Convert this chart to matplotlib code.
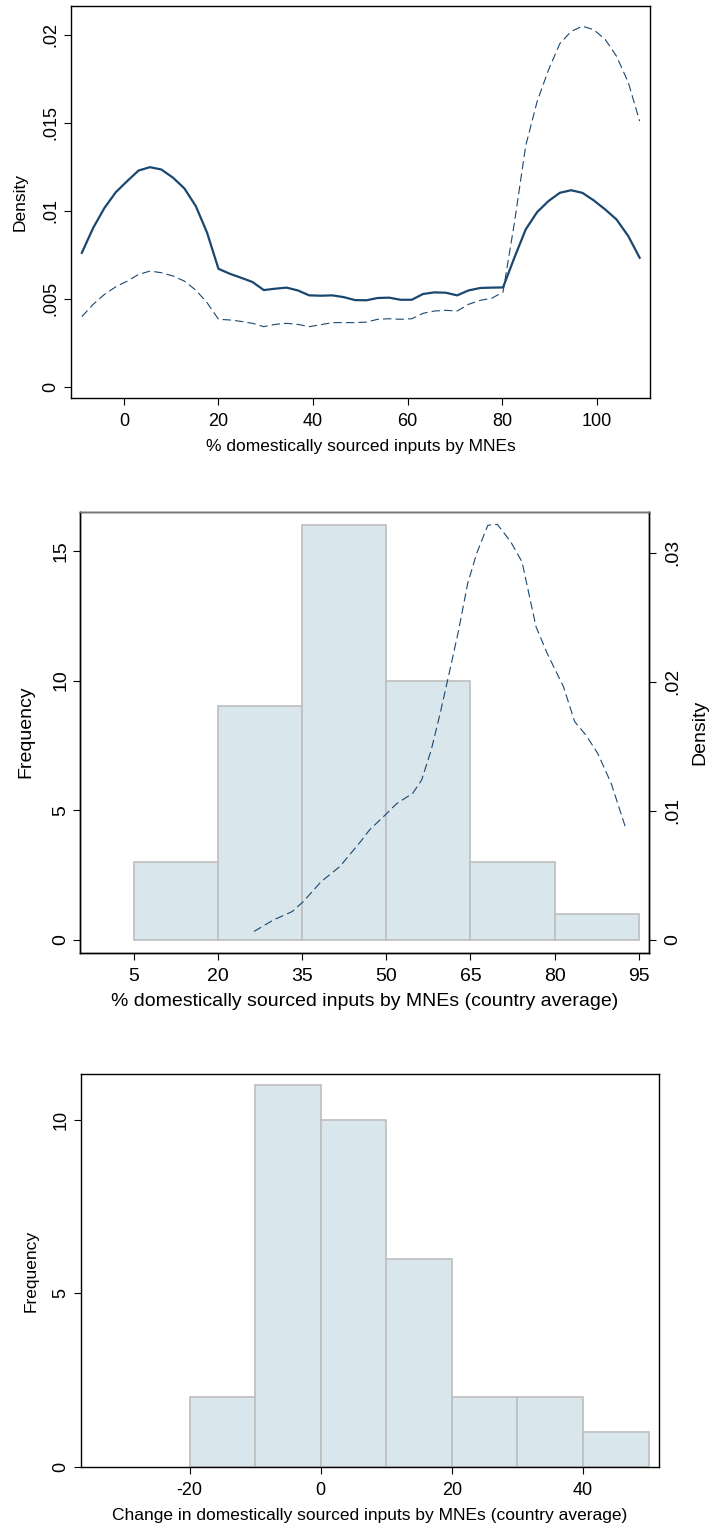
import numpy as np
import matplotlib
matplotlib.use('Agg')
from matplotlib import pyplot as plt

plt.rcParams['font.family'] = ['Liberation Sans', 'DejaVu Sans']
plt.rcParams['lines.scale_dashes'] = False
plt.rcParams['axes.unicode_minus'] = False

navy = '#1a476f'
bar_fill = '#d9e6ec'
bar_edge = '#bebebe'

# panel 1: kernel densities (50 grid points)
kd_x = [-8.9, -6.5, -4.1, -1.7, 0.7, 3.1, 5.5, 7.9, 10.4, 12.8,
        15.2, 17.6, 20.0, 22.4, 24.8, 27.2, 29.6, 32.0, 34.4, 36.8,
        39.2, 41.6, 44.1, 46.5, 48.9, 51.3, 53.7, 56.1, 58.5, 60.9,
        63.3, 65.7, 68.1, 70.5, 72.9, 75.4, 77.8, 80.2, 82.6, 85.0,
        87.4, 89.8, 92.2, 94.6, 97.0, 99.4, 101.8, 104.2, 106.7, 109.1]
kd_solid = [0.00761, 0.00903, 0.01017, 0.01106, 0.01169, 0.01229, 0.01248, 0.01235, 0.01188, 0.01127,
            0.01027, 0.00875, 0.00670, 0.00642, 0.00619, 0.00595, 0.00549, 0.00557, 0.00563, 0.00547,
            0.00519, 0.00517, 0.00519, 0.00509, 0.00492, 0.00491, 0.00504, 0.00506, 0.00494, 0.00494,
            0.00527, 0.00536, 0.00534, 0.00519, 0.00547, 0.00561, 0.00563, 0.00564, 0.00733, 0.00894,
            0.00992, 0.01055, 0.01102, 0.01117, 0.01102, 0.01059, 0.01008, 0.00951, 0.00856, 0.00733]
kd_dash = [0.00398, 0.00468, 0.00525, 0.00568, 0.00600, 0.00638, 0.00657, 0.00648, 0.00629, 0.00600,
           0.00549, 0.00477, 0.00383, 0.00379, 0.00371, 0.00360, 0.00341, 0.00354, 0.00360, 0.00354,
           0.00341, 0.00352, 0.00364, 0.00364, 0.00364, 0.00367, 0.00383, 0.00386, 0.00383, 0.00386,
           0.00417, 0.00430, 0.00434, 0.00430, 0.00468, 0.00491, 0.00502, 0.00538, 0.00930, 0.01370,
           0.01620, 0.01800, 0.01950, 0.02020, 0.02050, 0.02030, 0.01975, 0.01880, 0.01730, 0.01510]

# panel 2: country averages histogram + density
h2_edges = [5, 20, 35, 50, 65, 80, 95]
h2_counts = [3, 9, 16, 10, 3, 1]
d2_x = [26.4, 29.9, 33.2, 35.2, 38.4, 41.7, 45.4, 47.0, 49.8, 51.9,
        54.7, 56.3, 58.0, 59.6, 61.2, 62.9, 64.5, 66.1, 68.1, 69.8,
        72.2, 74.2, 76.7, 78.7, 81.6, 83.6, 85.6, 87.7, 90.1, 92.7]
d2_y = [0.00065, 0.00155, 0.00219, 0.00297, 0.00452, 0.00568, 0.00761, 0.00852, 0.00968, 0.01058,
        0.01135, 0.01239, 0.01471, 0.01755, 0.02065, 0.02400, 0.02761, 0.02994, 0.03213, 0.03220,
        0.03084, 0.02929, 0.02426, 0.02219, 0.01961, 0.01690, 0.01587, 0.01445, 0.01213, 0.00865]

# panel 3: change histogram
h3_edges = [-20, -10, 0, 10, 20, 30, 40, 50]
h3_counts = [2, 11, 10, 6, 2, 2, 1]

fig = plt.figure(figsize=(7.14, 15.28), dpi=100)

def style_axes(ax, ypad=3.5, size=13):
    for s in ax.spines.values():
        s.set_linewidth(1.0)
        s.set_color('black')
    ax.tick_params(direction='out', length=4.8, width=0.8, labelsize=size)
    ax.tick_params(axis='x', pad=6.0)
    ax.tick_params(axis='y', labelrotation=90, pad=ypad)
    for lab in ax.get_yticklabels():
        lab.set_va('center')

# ---- top panel
ax1 = fig.add_axes([0.0994, 0.7395, 0.9104 - 0.0994, 0.9961 - 0.7395])
ax1.plot(kd_x, kd_solid, color=navy, lw=1.6)
ax1.plot(kd_x, kd_dash, color=navy, lw=0.8, dashes=(6, 3))
ax1.set_xlim(-11.2, 111.3)
ax1.set_ylim(-0.00065, 0.02165)
ax1.set_xticks([0, 20, 40, 60, 80, 100])
ax1.set_yticks([0, 0.005, 0.01, 0.015, 0.02])
ax1.set_yticklabels(['0', '.005', '.01', '.015', '.02'])
ax1.set_xlabel('% domestically sourced inputs by MNEs', fontsize=12.5, labelpad=6.5)
ax1.set_ylabel('Density', fontsize=12.5, labelpad=10.4)
style_axes(ax1)

# ---- middle panel (text drawn a bit larger, as in the original)
ax2 = fig.add_axes([0.1115, 0.3766, 0.9094 - 0.1115, 0.6651 - 0.3766])
ax2.hist(h2_edges[:-1], bins=h2_edges, weights=h2_counts,
         color=bar_fill, edgecolor=bar_edge, linewidth=1.2)
ax2.set_xlim(-4.7, 96.9)
ax2.set_ylim(-0.49, 16.51)
ax2.set_xticks(h2_edges)
ax2.set_yticks([0, 5, 10, 15])
ax2.set_xlabel('% domestically sourced inputs by MNEs (country average)', fontsize=14, labelpad=6)
ax2.set_ylabel('Frequency', fontsize=14, labelpad=13)
style_axes(ax2, ypad=2.5, size=14)
ax2b = ax2.twinx()
ax2b.plot(d2_x, d2_y, color=navy, lw=0.8, dashes=(6, 3))
ax2b.set_ylim(-0.000984, 0.03318)
ax2b.set_yticks([0, 0.01, 0.02, 0.03])
ax2b.set_yticklabels(['0', '.01', '.02', '.03'])
ax2b.set_ylabel('Density', fontsize=14, labelpad=7)
style_axes(ax2b, ypad=6, size=14)
ax2b.spines['top'].set_color('#777777')

# ---- bottom panel
ax3 = fig.add_axes([0.1132, 0.0401, 0.9230 - 0.1132, 0.2969 - 0.0401])
ax3.hist(h3_edges[:-1], bins=h3_edges, weights=h3_counts,
         color=bar_fill, edgecolor=bar_edge, linewidth=1.2)
ax3.set_xlim(-36.6, 51.6)
ax3.set_ylim(0, 11.32)
ax3.set_xticks([-20, 0, 20, 40])
ax3.set_yticks([0, 5, 10])
ax3.set_xlabel('Change in domestically sourced inputs by MNEs (country average)', fontsize=12.5, labelpad=6.5)
ax3.set_ylabel('Frequency', fontsize=12.5, labelpad=10)
style_axes(ax3)

fig.savefig('out.png', dpi=100)
